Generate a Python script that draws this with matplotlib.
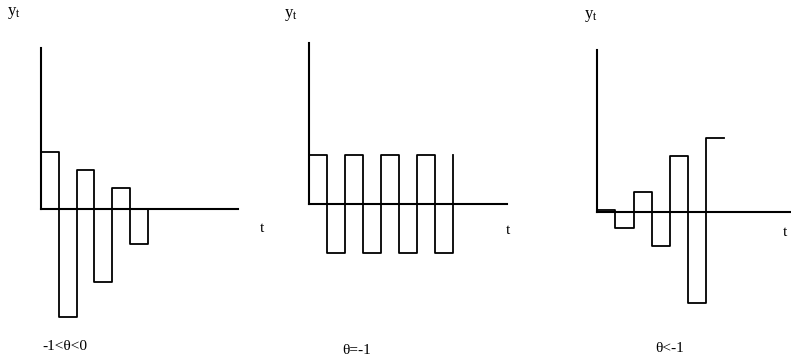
import matplotlib.pyplot as plt

plt.rcParams['font.family'] = ['Liberation Serif', 'DejaVu Serif']
plt.rcParams['mathtext.fontset'] = 'custom'
plt.rcParams['mathtext.rm'] = 'Liberation Serif'
plt.rcParams['mathtext.it'] = 'Liberation Serif:italic'

W, H = 791, 357

# step heights of y_t for each case of theta
vals_neg = [1.15, -2.15, 0.78, -1.45, 0.42, -0.69]   # -1 < theta < 0
vals_alt = [1, -1, 1, -1, 1, -1, 1, -1]              # theta = -1
vals_exp = [0.04, -0.31, 0.41, -0.67, 1.13, -1.82, 1.48]  # theta < -1
captions = ['-1<θ<0', 'θ=-1', 'θ<-1']

fig = plt.figure(figsize=(W / 100, H / 100), dpi=100)


def make_ax(x0, x1, y_top, y_zero, y_bot, step_px, unit_px):
    ax = fig.add_axes([x0 / W, 1 - y_bot / H, (x1 - x0) / W, (y_bot - y_top) / H])
    xmax = (x1 - x0) / step_px
    ax.set_xlim(0, xmax)
    ax.set_ylim(-(y_bot - y_zero) / unit_px, (y_zero - y_top) / unit_px)
    for s in ['top', 'right']:
        ax.spines[s].set_visible(False)
    ax.spines['left'].set_position(('data', 0))
    ax.spines['bottom'].set_position(('data', 0))
    ax.spines['left'].set_bounds(0, (y_zero - y_top) / unit_px)
    ax.spines['bottom'].set_bounds(0, xmax)
    for s in ['left', 'bottom']:
        ax.spines[s].set_linewidth(1.5)
    ax.set_xticks([])
    ax.set_yticks([])
    ax.patch.set_alpha(0)
    return ax


def label(x, y, s, size=10):
    fig.text(x / W, 1 - y / H, s, fontsize=size, ha='center', va='center')


# panel 1: damped oscillation, returning to zero
ax1 = make_ax(40.7, 238, 48, 209, 330, 17.9, 50)
ax1.step(range(len(vals_neg) + 1), vals_neg + [0], where='post', color='black', lw=1.3)

# panel 2: constant alternation, ends on a final rise
ax2 = make_ax(309, 507, 43, 204, 330, 17.96, 49)
ax2.step(range(len(vals_alt) + 1), vals_alt + [vals_alt[0]], where='post', color='black', lw=1.3)

# panel 3: explosive oscillation
ax3 = make_ax(597.3, 790, 50, 212.3, 330, 18.1, 50)
ax3.step(range(len(vals_exp) + 1), vals_exp + [vals_exp[-1]], where='post', color='black', lw=1.3)

for (x, y) in [(14, 13), (291, 15), (591, 16)]:
    label(x, y, r'$\mathregular{y_t}$', 12)
for (x, y) in [(262, 229), (508, 230), (785, 232)]:
    label(x, y, 't', 11)
for (x, y), s in zip([(65, 347), (357, 350), (670, 349)], captions):
    label(x, y, s, 11)

fig.savefig('out.png', dpi=100)
